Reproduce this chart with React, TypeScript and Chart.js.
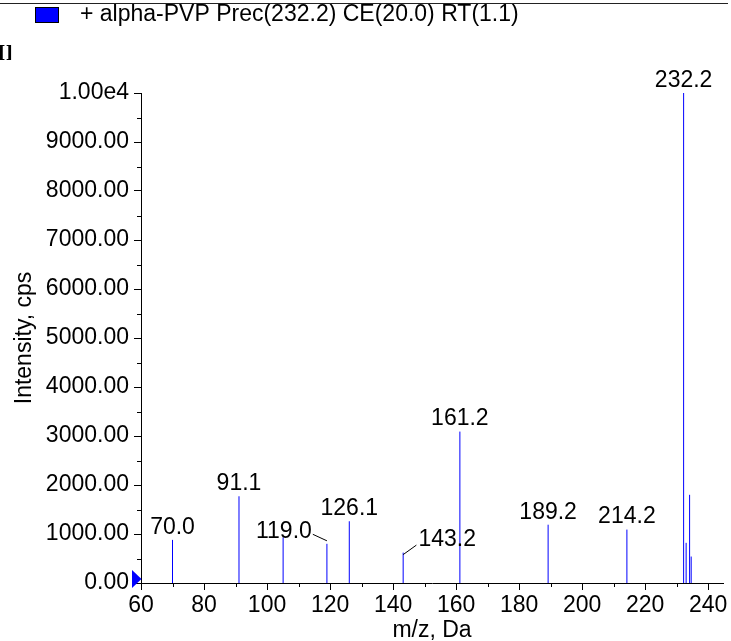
import React, { useEffect, useRef } from 'react';
import { Chart, registerables } from 'chart.js';

Chart.register(...registerables);

const SERIES_LABEL = '+ alpha-PVP Prec(232.2) CE(20.0) RT(1.1)';
const X_TITLE = 'm/z, Da';
const Y_TITLE = 'Intensity, cps';

const MZ = [70.0, 91.1, 105.1, 119.0, 126.1, 143.2, 161.2, 189.2, 214.2, 232.2, 233.0, 234.1, 234.6];
const INTENSITY = [880, 1770, 930, 800, 1260, 620, 3090, 1190, 1090, 10000, 820, 1800, 540];
const LABELED_MZ = [70.0, 91.1, 119.0, 126.1, 143.2, 161.2, 189.2, 214.2, 232.2];

const X_TICKS = [60, 80, 100, 120, 140, 160, 180, 200, 220, 240];
const Y_TICKS = [0, 1000, 2000, 3000, 4000, 5000, 6000, 7000, 8000, 9000, 10000];
const Y_TICK_LABELS = ['0.00', '1000.00', '2000.00', '3000.00', '4000.00', '5000.00', '6000.00', '7000.00', '8000.00', '9000.00', '1.00e4'];

const FONT_FAMILY = "'Liberation Sans', Arial, Helvetica, sans-serif";
const FONT_SIZE = 23;
const BLUE = '#0000ff';

// label placement tweaks (pixel offsets) for labels with leader lines
const LABEL_SHIFT: Record<string, { dx: number; leader: boolean }> = {
  '119.0': { dx: -43, leader: true },
  '143.2': { dx: 44, leader: true },
};

const overlayPlugin = {
  id: 'overlay',
  afterDraw(chart: any) {
    const ctx: CanvasRenderingContext2D = chart.ctx;
    const xs = chart.scales.x;
    const ys = chart.scales.y;
    const area = chart.chartArea;
    ctx.save();

    // minor ticks
    ctx.strokeStyle = '#000';
    ctx.lineWidth = 1;
    ctx.beginPath();
    for (let v = 70; v <= 240; v += 20) {
      const px = Math.round(xs.getPixelForValue(v)) + 0.5;
      ctx.moveTo(px, area.bottom);
      ctx.lineTo(px, area.bottom + 4);
    }
    for (let v = 500; v < 10000; v += 1000) {
      const py = Math.round(ys.getPixelForValue(v)) + 0.5;
      ctx.moveTo(area.left, py);
      ctx.lineTo(area.left - 4, py);
    }
    ctx.stroke();

    // origin marker triangle
    const ox = xs.getPixelForValue(60);
    const oy = ys.getPixelForValue(0);
    ctx.fillStyle = BLUE;
    ctx.beginPath();
    ctx.moveTo(ox - 9, oy - 13);
    ctx.lineTo(ox + 0.5, oy - 4);
    ctx.lineTo(ox - 9, oy + 5);
    ctx.closePath();
    ctx.fill();

    // peak labels
    ctx.fillStyle = '#000';
    ctx.font = `${FONT_SIZE}px ${FONT_FAMILY}`;
    ctx.textAlign = 'center';
    ctx.textBaseline = 'middle';
    LABELED_MZ.forEach((mz) => {
      const i = MZ.indexOf(mz);
      const text = mz.toFixed(1);
      const bx = xs.getPixelForValue(mz);
      const by = ys.getPixelForValue(INTENSITY[i]);
      const shift = LABEL_SHIFT[text];
      const dx = shift ? shift.dx : 0;
      const tx = bx + dx;
      const ty = by - 12.5;
      ctx.fillText(text, tx, ty);
      if (shift && shift.leader) {
        const w = ctx.measureText(text).width;
        ctx.beginPath();
        ctx.strokeStyle = '#000';
        ctx.lineWidth = 1;
        if (dx < 0) {
          ctx.moveTo(tx + w / 2 + 1, ty + 3);
          ctx.lineTo(bx, by - 3);
        } else {
          ctx.moveTo(tx - w / 2 - 2, ty + 5);
          ctx.lineTo(bx, by + 2);
        }
        ctx.stroke();
      }
    });

    // legend
    ctx.fillStyle = BLUE;
    ctx.fillRect(35, 7, 24, 16);
    ctx.strokeStyle = '#000';
    ctx.lineWidth = 1;
    ctx.strokeRect(35.5, 7.5, 23, 15);
    ctx.fillStyle = '#000';
    ctx.textAlign = 'left';
    ctx.textBaseline = 'middle';
    ctx.font = `${FONT_SIZE}px ${FONT_FAMILY}`;
    ctx.fillText(SERIES_LABEL, 80, 15);

    // top rule
    ctx.strokeStyle = '#222';
    ctx.beginPath();
    ctx.moveTo(0, 3.5);
    ctx.lineTo(728, 3.5);
    ctx.stroke();

    // stray clipped glyph at left edge
    ctx.font = `bold 16px 'DejaVu Serif', serif`;
    ctx.textBaseline = 'middle';
    ctx.fillText('[]', -2, 54);

    ctx.restore();
  },
};

function buildStickData() {
  const pts: { x: number; y: number }[] = [];
  MZ.forEach((mz, i) => {
    pts.push({ x: mz, y: 0 });
    pts.push({ x: mz, y: INTENSITY[i] });
    pts.push({ x: mz, y: NaN });
  });
  return pts;
}

export default function App() {
  const ref = useRef<HTMLCanvasElement | null>(null);

  useEffect(() => {
    if (!ref.current) return;
    const font = { family: FONT_FAMILY, size: FONT_SIZE };
    const chart = new Chart(ref.current, {
      type: 'scatter',
      data: {
        datasets: [
          {
            label: SERIES_LABEL,
            data: buildStickData(),
            showLine: true,
            spanGaps: false,
            borderColor: BLUE,
            borderWidth: 1,
            pointRadius: 0,
            pointHoverRadius: 0,
          } as any,
        ],
      },
      options: {
        animation: false,
        responsive: false,
        devicePixelRatio: 1,
        layout: { padding: { top: 93, right: 8, left: 0, bottom: 0 } },
        plugins: { legend: { display: false }, tooltip: { enabled: false } },
        scales: {
          x: {
            type: 'linear',
            min: 60,
            max: 244.7,
            afterBuildTicks: (s: any) => {
              s.ticks = X_TICKS.map((v) => ({ value: v }));
            },
            ticks: { color: '#000', font, padding: 2, maxRotation: 0, autoSkip: false },
            grid: { drawOnChartArea: false, drawTicks: true, tickLength: 7, color: '#000' },
            border: { color: '#000', width: 1 },
            title: {
              display: true,
              text: X_TITLE,
              color: '#000',
              font: { family: FONT_FAMILY, size: FONT_SIZE, lineHeight: 1 },
              padding: { top: 0, bottom: -1 },
            },
            afterFit: (s: any) => {
              s.height = 58;
            },
          },
          y: {
            type: 'linear',
            min: 0,
            max: 10000,
            afterBuildTicks: (s: any) => {
              s.ticks = Y_TICKS.map((v) => ({ value: v }));
            },
            ticks: {
              color: '#000',
              font,
              padding: 5,
              autoSkip: false,
              callback: (v: any) => Y_TICK_LABELS[Y_TICKS.indexOf(Number(v))],
            },
            grid: { drawOnChartArea: false, drawTicks: true, tickLength: 7, color: '#000' },
            border: { color: '#000', width: 1 },
            title: {
              display: true,
              text: Y_TITLE,
              color: '#000',
              font: { family: FONT_FAMILY, size: FONT_SIZE, lineHeight: 1.2 },
              padding: { top: 11, bottom: 0 },
            },
            afterFit: (s: any) => {
              s.width = 141;
            },
          },
        },
      },
      plugins: [overlayPlugin],
    });
    return () => chart.destroy();
  }, []);

  return (
    <div style={{ position: 'fixed', left: 0, top: 0, width: 731, height: 641, background: '#fff' }}>
      <canvas ref={ref} width={731} height={641} style={{ display: 'block', width: 731, height: 641 }} />
    </div>
  );
}
